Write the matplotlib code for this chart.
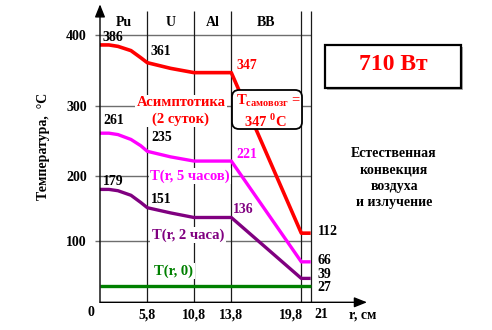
import numpy as np
import matplotlib
matplotlib.use("Agg")
import matplotlib.pyplot as plt
from matplotlib.patches import FancyBboxPatch, Rectangle
from matplotlib.transforms import IdentityTransform

plt.rcParams['font.family'] = 'Liberation Serif'
plt.rcParams['font.weight'] = 'bold'
plt.rcParams['mathtext.fontset'] = 'custom'
plt.rcParams['mathtext.rm'] = 'Liberation Serif:bold'
plt.rcParams['mathtext.bf'] = 'Liberation Serif:bold'

# радиус, см и температуры, °C
r = [0, 1.1, 2.2, 3.8, 5.0, 5.8, 8.3, 10.8, 13.8, 19.8, 21]
t_asimpt = [386, 386, 384, 378, 368, 361, 353, 347, 347, 112, 112]
t_5h = [261, 261, 259, 252, 243, 235, 227, 221, 221, 66, 66]
t_2h = [179, 179, 177, 170, 159, 151, 143, 136, 136, 39, 39]
t_0 = [27, 27, 27, 27, 27, 27, 27, 27, 27, 27, 27]

zones = ['Pu', 'U', 'Al', 'BB']
bounds = [0, 5.8, 10.8, 13.8, 19.8, 21]
x_labels = ['5,8', '10,8', '13,8', '19,8', '21']
y_ticks = [100, 200, 300, 400]

# оси нарисованы не в масштабе: кусочно-линейное преобразование
x_cm = [0, 5.8, 10.8, 13.8, 19.8, 21, 26.6]
x_px = [0, 47.3, 94, 131.3, 201.3, 210.7, 267]
y_deg = [0, 100, 200, 300, 400, 443]
y_px = [0, 61.3, 126.6, 196.3, 267.3, 298]

W, H = 492, 330
fig = plt.figure(figsize=(W / 100, H / 100), dpi=100)
ax = fig.add_axes([100 / W, 27.7 / H, 267 / W, 298 / H])
fwd = lambda v: np.interp(v, x_cm, x_px)
inv = lambda p: np.interp(p, x_px, x_cm)
ax.set_xscale('function', functions=(fwd, inv))
ax.set_yscale('function', functions=(lambda v: np.interp(v, y_deg, y_px),
                                     lambda p: np.interp(p, y_px, y_deg)))
ax.set_xlim(0, 26.6)
ax.set_ylim(0, 443)
for s in ax.spines.values():
    s.set_visible(False)

# сетка
ax.hlines(y_ticks, 0, 21, color='#6e6e6e', lw=1.0, zorder=1)
ax.vlines(bounds[1:], 0, 433, color='#1a1a1a', lw=0.9, zorder=1)

ax.set_yticks(y_ticks)
ax.set_yticklabels([str(v) for v in y_ticks])
ax.tick_params(axis='y', length=3.6, width=1.0, color='#6e6e6e', pad=6, labelsize=10)
ax.set_xticks([])
ax.set_yticks([], minor=True)
ax.set_xticks([], minor=True)

# оси со стрелками
arrow = dict(arrowstyle='-|>,head_length=0.55,head_width=0.22', color='black',
             lw=1.0, shrinkA=0, shrinkB=0, mutation_scale=14)
ax.annotate('', xy=(26.6, 0), xytext=(0, 0), arrowprops=arrow, annotation_clip=False)
ax.annotate('', xy=(0, 443), xytext=(0, -6), arrowprops=arrow, annotation_clip=False)

# кривые
ax.plot(r, t_0, color='#008000', lw=2.4, solid_capstyle='butt', zorder=2)
ax.plot(r, t_2h, color='#800080', lw=2.4, solid_capstyle='butt', zorder=2)
ax.plot(r, t_5h, color='#ff00ff', lw=2.4, solid_capstyle='butt', zorder=2)
ax.plot(r, t_asimpt, color='#ff0000', lw=2.6, solid_capstyle='butt', zorder=2)

# подписи зон
for name, a, b in zip(zones, bounds[:-2], bounds[1:-1]):
    ax.text(inv((fwd(a) + fwd(b)) / 2), 417, name, ha='center', va='center',
            fontsize=10)

# подписи оси x
xt = ax.get_xaxis_transform()
for x, lab in zip(bounds[1:], x_labels):
    ha, dx = 'center', 0
    if lab == '19,8':
        ha, dx = 'right', 1.5
    if lab == '21':
        ha, dx = 'left', 3
    ax.annotate(lab, (x, 0), xycoords=xt, xytext=(dx, -9), textcoords='offset points',
                ha=ha, va='center', fontsize=10)
ax.annotate('0', (0, 0), xycoords=xt, xytext=(-6.5, -7), textcoords='offset points',
            ha='center', va='center', fontsize=10)
fig.text(363 / W, 1 - 315 / H, 'r, см', ha='center', va='center', fontsize=10)
fig.text(43 / W, 1 - 146 / H, 'Температура,  °С', rotation=90, ha='center',
         va='center', fontsize=10)

# значения температур
def mark(x, y, txt, color='black', dx=2, dy=6):
    ax.annotate(txt, (x, y), xytext=(dx, dy), textcoords='offset points',
                ha='left', va='center', fontsize=10, color=color, zorder=5)

mark(r[0], t_asimpt[0], '386', dy=5)
mark(5.8, t_asimpt[5], '361', dx=2.5, dy=8)
mark(13.8, t_asimpt[8], '347', color='#ff0000', dx=4, dy=5)
mark(r[0], t_5h[0], '261', dx=2.5, dy=9)
mark(5.8, t_5h[5], '235', dx=3, dy=10)
mark(13.8, t_5h[8], '221', color='#ff00ff', dx=4, dy=5)
mark(r[0], t_2h[0], '179', dx=2, dy=6)
mark(5.8, t_2h[5], '151', dx=2.5, dy=6)
mark(13.8, t_2h[8], '136', color='#800080', dx=1.5, dy=6)
mark(21, t_asimpt[-1], '112', dx=5, dy=1)
mark(21, t_5h[-1], '66', dx=5, dy=1)
mark(21, t_2h[-1], '39', dx=5, dy=3)
mark(21, t_0[-1], '27', dx=5, dy=-1)

# подписи кривых
bb = dict(boxstyle='square,pad=0.1', fc='white', ec='none')
fig.text(181 / W, 1 - 111 / H, 'Асимптотика\n(2 суток)', ha='center', va='center',
         fontsize=10.5, color='#ff0000', linespacing=1.25, bbox=bb, zorder=4)
fig.text(190 / W, 1 - 176 / H, 'T(r, 5 часов)', ha='center', va='center',
         fontsize=10.5, color='#ff00ff', bbox=bb, zorder=4)
fig.text(188 / W, 1 - 235 / H, 'T(r, 2 часа)', ha='center', va='center',
         fontsize=10.5, color='#800080', bbox=bb, zorder=4)
fig.text(174 / W, 1 - 271 / H, 'T(r, 0)', ha='center', va='center',
         fontsize=10.5, color='#008000', bbox=bb, zorder=4)

# рамка с температурой самовозгорания
fig.add_artist(FancyBboxPatch((232, H - 129), 70, 39,
                              boxstyle='round,pad=0,rounding_size=7',
                              transform=IdentityTransform(), fc='white',
                              ec='black', lw=1.3, zorder=5))
fig.text(268 / W, 1 - 101 / H, r'T$_{\rm самовозг}$ =', ha='center', va='center',
         fontsize=10.5, color='#ff0000', zorder=6)
fig.text(265 / W, 1 - 121 / H, r'347 $^{\rm 0}$C', ha='center', va='center',
         fontsize=10.5, color='#ff0000', zorder=6)

# мощность
fig.add_artist(Rectangle((327, H - 90), 136, 43, transform=IdentityTransform(),
                         fc='#b0b0b0', ec='none', zorder=5))
fig.add_artist(Rectangle((325, H - 88), 136, 43, transform=IdentityTransform(),
                         fc='white', ec='black', lw=1.6, zorder=6))
fig.text(393 / W, 1 - 65 / H, '710 Вт', ha='center', va='center', fontsize=17,
         color='#ff0000', zorder=7)

fig.text(394 / W, 1 - 178 / H, 'Естественная\nконвекция\nвоздуха\nи излучение',
         ha='center', va='center', fontsize=10, linespacing=1.32)

fig.savefig('out.png', dpi=100)
